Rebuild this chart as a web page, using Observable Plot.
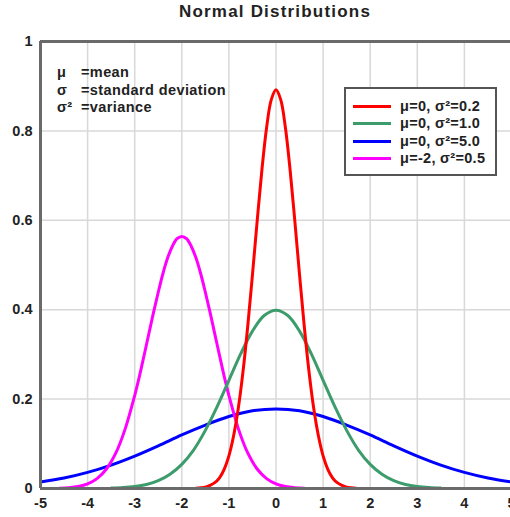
<!DOCTYPE html>
<html>
<head>
<meta charset="utf-8">
<script src="https://cdn.jsdelivr.net/npm/d3@7"></script>
<script src="https://cdn.jsdelivr.net/npm/@observablehq/plot@0.6"></script>
<style>
  html, body { margin: 0; padding: 0; background: #fff; overflow: hidden; }
  #wrap { position: relative; width: 510px; height: 517px; overflow: hidden; font-family: "Liberation Sans", Arial, sans-serif; }
  #title { position: absolute; left: 40px; top: 1px; width: 470px; text-align: center; font-weight: bold; font-size: 17px; letter-spacing: 1.2px; color: #222; line-height: 22px; }
  #chart { position: absolute; left: 0; top: 0; width: 521px; }
  #chart svg { max-width: none !important; width: 521px !important; height: 517px !important; }
  #notes { position: absolute; left: 57px; top: 64px; font-weight: bold; font-size: 14.5px; letter-spacing: 0.4px; color: #222; line-height: 17.5px; }
  #notes .sym { display: inline-block; width: 24px; }
  #legend { position: absolute; left: 344px; top: 87px; width: 149px; height: 85px; border: 2px solid #555; background: #fff; }
  #legend .row { position: absolute; left: 0; height: 17px; font-weight: bold; font-size: 14.5px; letter-spacing: 0.3px; color: #222; line-height: 17px; }
  #legend .sample { position: absolute; left: 7px; top: 7px; width: 38px; height: 3px; }
  #legend .lab { position: absolute; left: 54px; top: 0; white-space: nowrap; }
</style>
</head>
<body>
<div id="wrap">
  <div id="chart"></div>
  <div id="title">Normal Distributions</div>
  <div id="notes"></div>
  <div id="legend"></div>
</div>
<script>
// Tick values
const xTicks = [-5, -4, -3, -2, -1, 0, 1, 2, 3, 4, 5];
const yTicks = [0, 0.2, 0.4, 0.6, 0.8, 1];

// Series labels and colours
const seriesNames = ["μ=0, σ²=0.2", "μ=0, σ²=1.0", "μ=0, σ²=5.0", "μ=-2, σ²=0.5"];
const seriesColors = ["#ff0000", "#3c9c6c", "#0000ff", "#ff00ff"];

// Note lines
const noteSymbols = ["μ", "σ", "σ²"];
const noteTexts = ["=mean", "=standard deviation", "=variance"];

// Red curve (μ=0, σ²=0.2)
const redX = [-1.7,-1.6,-1.5,-1.4,-1.3,-1.2,-1.1,-1.0,-0.9,-0.8,-0.7,-0.6,-0.5,-0.4,-0.3,-0.2,-0.1,0,0.1,0.2,0.3,0.4,0.5,0.6,0.7,0.8,0.9,1.0,1.1,1.2,1.3,1.4,1.5,1.6,1.7];
const redY = [0.0006,0.0015,0.003,0.007,0.013,0.024,0.043,0.073,0.118,0.180,0.262,0.363,0.478,0.598,0.712,0.807,0.870,0.892,0.870,0.807,0.712,0.598,0.478,0.363,0.262,0.180,0.118,0.073,0.043,0.024,0.013,0.007,0.003,0.0015,0.0006];

// Green curve (μ=0, σ²=1.0)
const greenX = [-3.5,-3.25,-3,-2.75,-2.5,-2.25,-2,-1.75,-1.5,-1.25,-1,-0.75,-0.5,-0.25,0,0.25,0.5,0.75,1,1.25,1.5,1.75,2,2.25,2.5,2.75,3,3.25,3.5];
const greenY = [0.0009,0.002,0.0044,0.009,0.0175,0.032,0.054,0.086,0.130,0.183,0.242,0.301,0.352,0.387,0.399,0.387,0.352,0.301,0.242,0.183,0.130,0.086,0.054,0.032,0.0175,0.009,0.0044,0.002,0.0009];

// Blue curve (μ=0, σ²=5.0)
const blueX = [-5,-4.5,-4,-3.5,-3,-2.5,-2,-1.5,-1,-0.5,0,0.5,1,1.5,2,2.5,3,3.5,4,4.5,5];
const blueY = [0.0146,0.0235,0.036,0.0524,0.0725,0.0955,0.120,0.142,0.161,0.174,0.178,0.174,0.161,0.142,0.120,0.0955,0.0725,0.0524,0.036,0.0235,0.0146];

// Magenta curve (μ=-2, σ²=0.5)
const magentaX = [-4.6,-4.4,-4.2,-4.0,-3.8,-3.6,-3.4,-3.2,-3.0,-2.9,-2.8,-2.7,-2.6,-2.5,-2.4,-2.3,-2.2,-2.1,-2.0,-1.9,-1.8,-1.7,-1.6,-1.5,-1.4,-1.3,-1.2,-1.1,-1.0,-0.8,-0.6,-0.4,-0.2,0,0.2,0.4,0.6];
const magentaY = [0.0007,0.0018,0.0045,0.0103,0.0221,0.0436,0.0795,0.134,0.208,0.251,0.298,0.346,0.394,0.439,0.481,0.516,0.542,0.559,0.564,0.559,0.542,0.516,0.481,0.439,0.394,0.346,0.298,0.251,0.208,0.134,0.0795,0.0436,0.0221,0.0103,0.0045,0.0018,0.0007];

const toRows = (xs, ys) => xs.map((x, i) => ({x, y: ys[i]}));
const red = toRows(redX, redY);
const green = toRows(greenX, greenY);
const blue = toRows(blueX, blueY);
const magenta = toRows(magentaX, magentaY);

const lineOpts = (color) => ({x: "x", y: "y", stroke: color, strokeWidth: 3, curve: "catmull-rom"});

const chart = Plot.plot({
  width: 521,
  height: 517,
  marginLeft: 40,
  marginRight: 10,
  marginTop: 41,
  marginBottom: 29,
  style: {fontFamily: "Liberation Sans, Arial, sans-serif", fontSize: "14.5px", fontWeight: "bold", color: "#222", background: "transparent", maxWidth: "none"},
  x: {domain: [-5, 5], ticks: xTicks, tickSize: 0, tickPadding: 9, tickFormat: d => String(d), label: null},
  y: {domain: [0, 1], ticks: yTicks, tickSize: 0, tickPadding: 8, tickFormat: d => String(d), label: null},
  marks: [
    Plot.ruleX(xTicks.slice(1), {stroke: "#d8d8d8", strokeWidth: 1.5}),
    Plot.ruleY(yTicks.slice(1, -1), {stroke: "#d8d8d8", strokeWidth: 1.5}),
    Plot.line(blue, lineOpts(seriesColors[2])),
    Plot.line(magenta, lineOpts(seriesColors[3])),
    Plot.line(green, lineOpts(seriesColors[1])),
    Plot.line(red, lineOpts(seriesColors[0])),
    Plot.ruleX([-5], {stroke: "#6a6a6a", strokeWidth: 3}),
    Plot.ruleY([0, 1], {stroke: "#6a6a6a", strokeWidth: 3})
  ]
});
document.getElementById("chart").appendChild(chart);

// Notes
const notes = document.getElementById("notes");
noteSymbols.forEach((s, i) => {
  const div = document.createElement("div");
  const sym = document.createElement("span");
  sym.className = "sym";
  sym.textContent = s;
  div.appendChild(sym);
  div.appendChild(document.createTextNode(noteTexts[i]));
  notes.appendChild(div);
});

// Legend
const legend = document.getElementById("legend");
seriesNames.forEach((name, i) => {
  const row = document.createElement("div");
  row.className = "row";
  row.style.top = (9 + i * 17.4) + "px";
  row.style.width = "149px";
  const sample = document.createElement("div");
  sample.className = "sample";
  sample.style.background = seriesColors[i];
  const lab = document.createElement("div");
  lab.className = "lab";
  lab.textContent = name;
  row.appendChild(sample);
  row.appendChild(lab);
  legend.appendChild(row);
});
</script>
</body>
</html>
